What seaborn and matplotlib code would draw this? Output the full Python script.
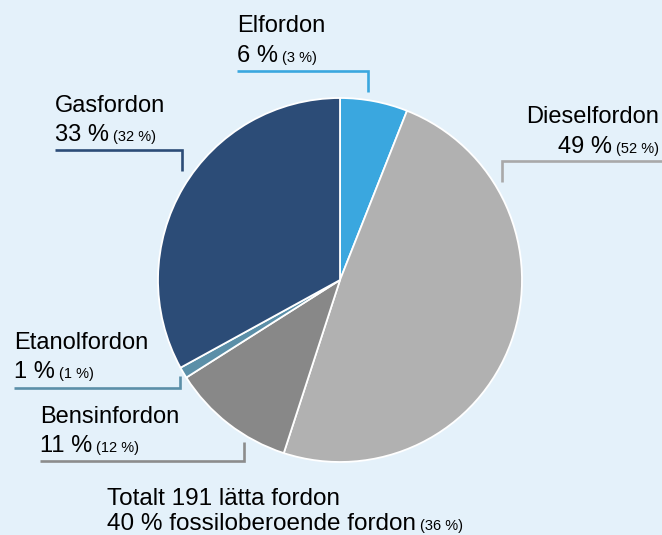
import matplotlib
matplotlib.use("Agg")
import matplotlib.pyplot as plt
import seaborn as sns

categories = ["Elfordon", "Dieselfordon", "Bensinfordon", "Etanolfordon", "Gasfordon"]
shares = [6, 49, 11, 1, 33]
prev_shares = [3, 52, 12, 1, 32]
total_vehicles = 191
fossil_share = 40
fossil_prev = 36

colors = ["#3AA7DF", "#B1B1B1", "#888888", "#5B8FA8", "#2C4C77"]
bg = "#E4F1FA"

sns.set_style("white")
plt.rcParams["font.family"] = ["Liberation Sans", "DejaVu Sans"]

W, H = 662, 535
fig = plt.figure(figsize=(W / 100, H / 100), dpi=100, facecolor=bg)
ax = fig.add_axes([0, 0, 1, 1])
ax.set_facecolor(bg)

def Y(py):
    return H - py

cx, cy, r = 340, Y(280), 182
ax.pie(shares, colors=colors, startangle=90, counterclock=False,
       center=(cx, cy), radius=r, frame=True,
       wedgeprops=dict(edgecolor="white", linewidth=1.3))
ax.set_xlim(0, W)
ax.set_ylim(0, H)
ax.set_aspect("auto")
ax.axis("off")

BIG = 17.0
SMALL = 10.5
TXT = "#000000"

def label(i, x, y_name, y_val, ha="left"):
    name, val, prev = categories[i], shares[i], prev_shares[i]
    ax.text(x, Y(y_name), name, fontsize=BIG, ha=ha, va="baseline", color=TXT)
    if ha == "left":
        t = ax.text(x, Y(y_val), f"{val} %", fontsize=BIG, ha="left", va="baseline", color=TXT)
        ax.annotate(f"({prev} %)", xy=(1, 0), xycoords=t, xytext=(3, 1.5),
                    textcoords="offset points", fontsize=SMALL, ha="left", va="bottom", color=TXT)
    else:
        s = ax.text(x, Y(y_val), f"({prev} %)", fontsize=SMALL, ha="right", va="baseline", color=TXT)
        ax.annotate(f"{val} %", xy=(0, 0), xycoords=s, xytext=(-3, -1.5),
                    textcoords="offset points", fontsize=BIG, ha="right", va="bottom", color=TXT)

def leader(xs, ys, color):
    ax.plot(xs, [Y(v) for v in ys], color=color, lw=1.9, solid_capstyle="butt",
            solid_joinstyle="miter")

# Elfordon
label(0, 237, 32, 62)
leader([237, 368, 368], [71, 71, 92], colors[0])
# Dieselfordon
label(1, 659, 123, 153, ha="right")
leader([670, 502, 502], [161, 161, 182], "#A9A9A9")
# Gasfordon
label(4, 55, 112, 141)
leader([55, 182, 182], [150, 150, 171], colors[4])
# Etanolfordon
label(3, 14, 349, 378)
leader([14, 180, 180], [388, 388, 376], colors[3])
# Bensinfordon
label(2, 40, 423, 452)
leader([40, 244, 244], [461, 461, 442], "#8C8C8C")

# Bottom summary
BOT = 17.5
ax.text(107, Y(505), f"Totalt {total_vehicles} lätta fordon", fontsize=BOT,
        ha="left", va="baseline", color=TXT)
t = ax.text(107, Y(530), f"{fossil_share} % fossiloberoende fordon", fontsize=BOT,
            ha="left", va="baseline", color=TXT)
ax.annotate(f"({fossil_prev} %)", xy=(1, 0), xycoords=t, xytext=(3, 1.5),
            textcoords="offset points", fontsize=SMALL, ha="left", va="bottom", color=TXT)

fig.savefig("out.png", dpi=100, facecolor=bg)
